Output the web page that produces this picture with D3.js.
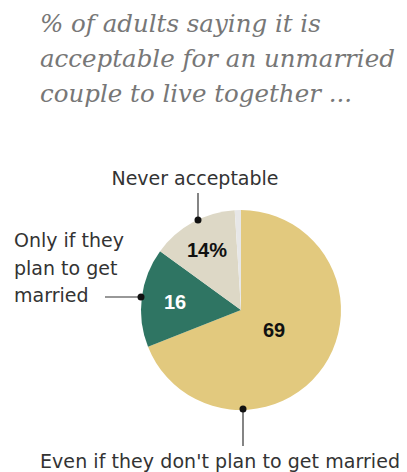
<!DOCTYPE html>
<html>
<head>
<meta charset="utf-8">
<script src="https://cdn.jsdelivr.net/npm/d3@7"></script>
<style>
  body { margin: 0; background: #fff; }
  svg { display: block; }
</style>
</head>
<body>
<div id="chart"></div>
<script>
// data
var categories = ["Even if they don't plan to get married", "Only if they plan to get married", "Never acceptable", "No answer"];
var values = [69, 16, 14, 1];
var valueLabels = ["69", "16", "14%", ""];
var titleLines = ["% of adults saying it is", "acceptable for an unmarried", "couple to live together ..."];

var width = 407, height = 472;
var cx = 241, cy = 310, r = 100;
var colours = ["#e2c97e", "#2f7563", "#ddd8c6", "#e7e7e7"];
var labelColours = ["#111", "#fff", "#111", "#111"];

var svg = d3.select("#chart").append("svg")
	.attr("width", width)
	.attr("height", height);

// title
svg.append("g")
	.selectAll("text")
	.data(titleLines)
	.enter().append("text")
		.attr("x", 40)
		.attr("y", function(d, i) { return 32 + i * 35; })
		.attr("font-family", "DejaVu Serif, Georgia, serif")
		.attr("font-style", "italic")
		.attr("font-size", 24.5)
		.attr("fill", "#777")
		.text(function(d) { return d; });

var pie = d3.pie().sort(null).value(function(d) { return d; });
var arcs = pie(values);
var arc = d3.arc().innerRadius(0).outerRadius(r);

var g = svg.append("g").attr("transform", "translate(" + cx + "," + cy + ")");

g.selectAll("path")
	.data(arcs)
	.enter().append("path")
		.attr("d", arc)
		.attr("fill", function(d, i) { return colours[i]; });

var labelPos = [[33, 20], [-66, -8], [-34, -60]];
g.selectAll("text.val")
	.data(arcs.slice(0, 3))
	.enter().append("text")
		.attr("class", "val")
		.attr("x", function(d, i) { return labelPos[i][0]; })
		.attr("y", function(d, i) { return labelPos[i][1]; })
		.attr("dy", "0.35em")
		.attr("text-anchor", "middle")
		.attr("font-family", "Liberation Sans, Arial, sans-serif")
		.attr("font-weight", "bold")
		.attr("font-size", 20)
		.attr("fill", function(d, i) { return labelColours[i]; })
		.text(function(d, i) { return valueLabels[i]; });

// leader lines with dots
var leaders = [
	{x1: 243, y1: 409, x2: 243, y2: 446},
	{x1: 141, y1: 297, x2: 105, y2: 297},
	{x1: 198, y1: 220, x2: 198, y2: 193}
];
var lg = svg.append("g");
lg.selectAll("line")
	.data(leaders)
	.enter().append("line")
		.attr("x1", function(d) { return d.x1; })
		.attr("y1", function(d) { return d.y1; })
		.attr("x2", function(d) { return d.x2; })
		.attr("y2", function(d) { return d.y2; })
		.attr("stroke", "#333")
		.attr("stroke-width", 1.2);
lg.selectAll("circle")
	.data(leaders)
	.enter().append("circle")
		.attr("cx", function(d) { return d.x1; })
		.attr("cy", function(d) { return d.y1; })
		.attr("r", 3.5)
		.attr("fill", "#111");

var catText = svg.append("g")
	.attr("font-family", "DejaVu Sans, Verdana, sans-serif")
	.attr("font-size", 19)
	.attr("fill", "#333");

catText.append("text")
	.attr("x", 220)
	.attr("y", 468)
	.attr("text-anchor", "middle")
	.attr("textLength", 360)
	.text(categories[0]);

catText.append("text")
	.attr("x", 195)
	.attr("y", 185)
	.attr("text-anchor", "middle")
	.text(categories[2]);

var onlyLines = ["Only if they", "plan to get", "married"];
catText.selectAll("text.only")
	.data(onlyLines)
	.enter().append("text")
		.attr("class", "only")
		.attr("x", 14)
		.attr("y", function(d, i) { return 247 + i * 27.5; })
		.text(function(d) { return d; });
</script>
</body>
</html>
